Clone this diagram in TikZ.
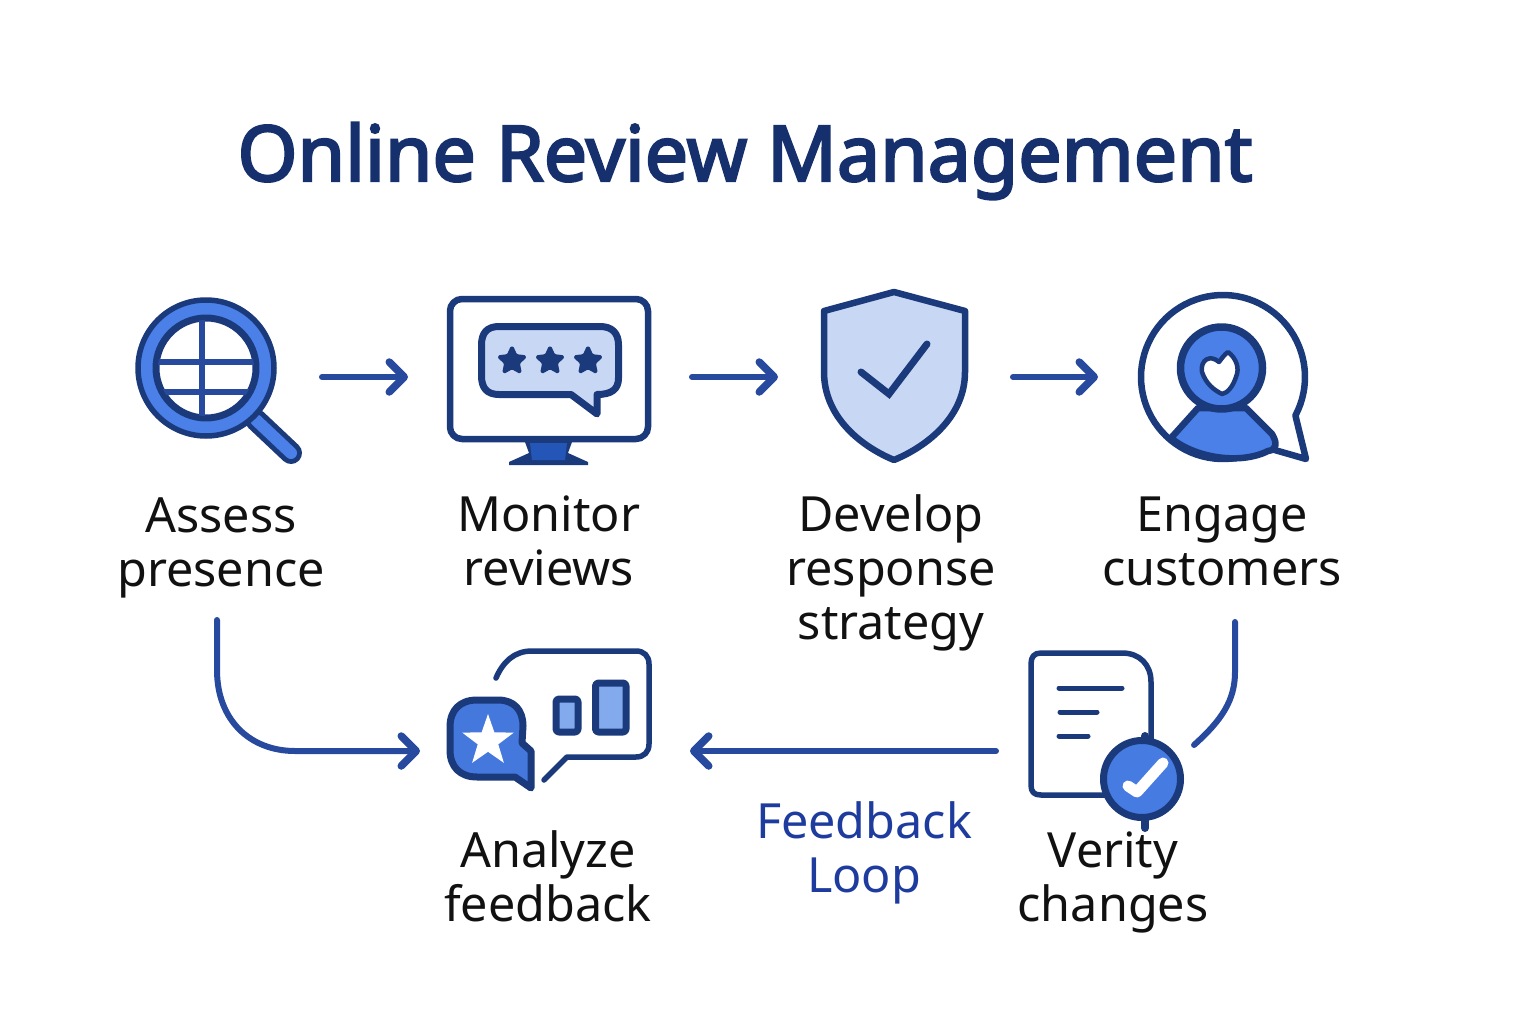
\documentclass[tikz,border=0pt]{standalone}
\usepackage{fontspec}
\setmainfont{Noto Sans}
\newfontfamily\titlefont[FakeBold=3]{Noto Sans}
\usetikzlibrary{arrows.meta,shapes.geometric}
\definecolor{navy}{HTML}{1A3A7C}
\definecolor{arrowblue}{HTML}{274A9F}
\definecolor{midblue}{HTML}{4A80E8}
\definecolor{paleblue}{HTML}{C8D7F3}
\definecolor{barblue}{HTML}{82AAEC}
\definecolor{titleblue}{HTML}{16306E}
\definecolor{loopblue}{HTML}{1E3C9E}
\definecolor{inkblack}{HTML}{111111}
\definecolor{standblue}{HTML}{2456B8}
\tikzset{
  icon/.style={draw=navy,line width=6.5pt,line join=round,line cap=round},
  flow/.style={draw=arrowblue,line width=6pt,line cap=round,-{Straight Barb[length=15pt,width=30pt,line width=7.5pt,round]}},
  plain/.style={draw=arrowblue,line width=6pt,line cap=round},
  steplabel/.style={font=\fontsize{48.5}{54}\selectfont,text=inkblack,align=center,inner sep=0pt},
  rating/.style={star,star points=5,star point ratio=2.1,fill=navy,draw=navy,line width=2.5pt,line join=round,inner sep=0pt,minimum size=29pt,rounded corners=1.5pt},
}
\begin{document}
\begin{tikzpicture}[x=1pt,y=-1pt]
\useasboundingbox[fill=white] (0,0) rectangle (1536,1024);
\node[font=\titlefont\fontsize{77}{84}\selectfont,text=titleblue,inner sep=0pt] (title) at (745,161) {Online Review Management};

% Assess icon
\draw[draw=navy,line width=22pt,line cap=round] (256,420) -- (291,453);
\draw[draw=midblue,line width=12pt,line cap=round] (256,420) -- (291,453);
\draw[icon,line width=5.5pt,fill=midblue] (206,368) circle (68);
\draw[icon,line width=7pt,fill=white] (206,368) circle (50);
\begin{scope}
\clip (206,368) circle (48);
\draw[draw=arrowblue,line width=6.5pt] (202,310) -- (202,425);
\draw[draw=arrowblue,line width=6.5pt] (150,362) -- (260,362);
\draw[draw=arrowblue,line width=6.5pt] (150,392) -- (260,392);
\end{scope}
% Monitor icon
\fill[navy] (525,442) -- (572,442) -- (568,453) -- (588,462) -- (588,465) -- (509,465) -- (509,462) -- (529,453) -- cycle;
\fill[standblue] (530,443) -- (567,443) -- (565,460) -- (532,460) -- cycle;
\draw[icon,rounded corners=12pt,fill=white] (450,299) rectangle (648,439);
\draw[icon,line width=7pt,fill=paleblue,rounded corners=0pt]
  (499,326.5) -- (600,326.5) .. controls (612,326.5) and (618.5,333) .. (618.5,345)
  -- (618.5,378) .. controls (618.5,389) and (612,394.5) .. (597,394.5) -- (597,414) -- (571,394.5)
  -- (499,394.5) .. controls (487,394.5) and (481.5,388) .. (481.5,376) -- (481.5,345)
  .. controls (481.5,333) and (487,326.5) .. (499,326.5) -- cycle;
\node[rating] (star1) at (512,361) {};
\node[rating] (star2) at (550,361) {};
\node[rating] (star3) at (588,361) {};
% Shield icon
\draw[icon,fill=paleblue] (894,292) -- (965,311) -- (965,372)
  .. controls (965,415) and (930,445) .. (894,460)
  .. controls (858,445) and (824,415) .. (824,372) -- (824,311) -- cycle;
\draw[draw=navy,line width=7pt,line cap=round,line join=miter] (861,372) -- (889,394) -- (927,344);
% Engage icon
\draw[icon,fill=white] plot[domain=28:-301,samples=80] ({1223+82*cos(\x)},{377+82*sin(\x)})
  -- (1306,459) -- cycle;
\draw[icon,fill=midblue] (1198,408) -- (1171,438) .. controls (1195,458) and (1240,465) .. (1268,451)
  .. controls (1276,450) and (1278,444) .. (1272,434) -- (1246,408) -- cycle;
\draw[icon,line width=7.5pt,fill=midblue] (1221.5,368) circle (41);
\draw[icon,line width=4.5pt,fill=white] (1219,362)
  .. controls (1222,358) and (1225,354) .. (1228,352)
  .. controls (1236,358) and (1240,368) .. (1236,377)
  .. controls (1233,386) and (1228,393) .. (1222,394)
  .. controls (1214,390) and (1206,384) .. (1202,372)
  .. controls (1200,360) and (1210,354) .. (1219,362) -- cycle;
% Analyze icon
\draw[icon,line width=5.5pt] (496,678) .. controls (503,662) and (514,651) .. (532,651) -- (636,651)
  .. controls (644,651) and (649,656) .. (649,664) -- (649,744)
  .. controls (649,752) and (644,757) .. (636,757) -- (567,757) -- (544,780);
\draw[icon,line width=7pt,rounded corners=3pt,fill=barblue] (556,699) rectangle (578,732);
\draw[icon,line width=7pt,rounded corners=3pt,fill=barblue] (595.5,683) rectangle (626,732);
\draw[icon,line width=7pt,fill=midblue!85!arrowblue] (477,700) -- (498,700) .. controls (514,700) and (523,710) .. (523,726)
  -- (522,743) -- (531,751) -- (531,788) -- (515,777) -- (477,777)
  .. controls (460,777) and (450,767) .. (450,750) -- (450,727)
  .. controls (450,710) and (460,700) .. (477,700) -- cycle;
\node[star,star points=5,star point ratio=2.5,fill=white,inner sep=0pt,minimum size=54pt] (bigstar) at (488,741) {};
% Verify icon
\draw[icon,line width=5.5pt,fill=white] (1151,745) -- (1151,682) .. controls (1151,665) and (1140,653) .. (1122,653)
  -- (1041,653) .. controls (1034,653) and (1031,657) .. (1031,664) -- (1031,785)
  .. controls (1031,792) and (1034,795) .. (1041,795) -- (1110,795);
\draw[draw=navy,line width=5pt,line cap=round] (1059,688) -- (1122,688);
\draw[draw=navy,line width=5pt,line cap=round] (1060,712) -- (1097,712);
\draw[draw=navy,line width=5pt,line cap=round] (1059,736) -- (1088,736);
\draw[draw=navy,line width=8pt,line cap=round] (1145,736) -- (1145,828);
\draw[icon,line width=7pt,fill=midblue!90!arrowblue] (1142,779) circle (38.5);
\draw[draw=white,line width=11pt,line cap=round,line join=round] (1128,786) -- (1137,792) -- (1163,763);

% Labels
\node[steplabel] (assess) at (221,548) {Assess\\presence};
\node[steplabel] (monitor) at (549,541) {Monitor\\reviews};
\node[steplabel] (develop) at (891,573) {Develop\\response\\strategy};
\node[steplabel] (engage) at (1222,541) {Engage\\customers};
\node[steplabel] (analyze) at (548,876) {Analyze\\feedback};
\node[steplabel] (verify) at (1113,882) {Verity\\changes};
\node[steplabel,text=loopblue] (loop) at (864,853) {Feedback\\Loop};

% Connectors
\coordinate (a1s) at (322,377); \coordinate (a1e) at (408,377);
\coordinate (a2s) at (692,377); \coordinate (a2e) at (778,377);
\coordinate (a3s) at (1013,377); \coordinate (a3e) at (1098,377);
\coordinate (a4s) at (217,620); \coordinate (a4e) at (420,751);
\coordinate (a5s) at (996,751); \coordinate (a5e) at (690,751);
\coordinate (a6s) at (1235,622); \coordinate (a6e) at (1194,745);
\draw[flow] (a1s) -- (a1e);
\draw[flow] (a2s) -- (a2e);
\draw[flow] (a3s) -- (a3e);
\draw[flow] (a4s) -- (217,670) .. controls (217,720) and (250,751) .. (295,751) -- (a4e);
\draw[flow] (a5s) -- (a5e);
\draw[plain] (a6s) -- (1235,672) .. controls (1235,700) and (1222,720) .. (a6e);
\end{tikzpicture}
\end{document}
